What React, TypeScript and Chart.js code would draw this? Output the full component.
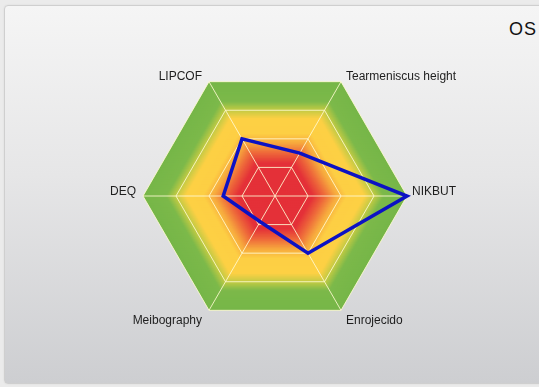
import React, { useEffect, useRef } from 'react';
import { Chart, registerables } from 'chart.js';

Chart.register(...registerables);

// ---- data ----
const categories = ['Tearmeniscus height', 'NIKBUT', 'Enrojecido', 'Meibography', 'DEQ', 'LIPCOF'];
const osValues = [1.5, 4, 2, 0.9, 1.57, 2];
const scaleMin = 0;
const scaleMax = 4;
const scaleStep = 1;
const titleText = 'OS';

// ---- styles ----
const gradientStops: [number, [number, number, number]][] = [
  [0.0, [228, 48, 56]],
  [0.29, [228, 48, 56]],
  [0.38, [238, 104, 58]],
  [0.47, [247, 170, 62]],
  [0.55, [253, 207, 68]],
  [0.68, [253, 208, 68]],
  [0.76, [190, 202, 68]],
  [0.83, [124, 185, 74]],
  [1.0, [118, 182, 72]],
];

function colorAt(f: number) {
  for (let i = 1; i < gradientStops.length; i++) {
    const [f1, c1] = gradientStops[i];
    const [f0, c0] = gradientStops[i - 1];
    if (f <= f1) {
      const t = f1 === f0 ? 0 : (f - f0) / (f1 - f0);
      const c = c0.map((v, k) => Math.round(v + (c1[k] - v) * t));
      return `rgb(${c[0]},${c[1]},${c[2]})`;
    }
  }
  const c = gradientStops[gradientStops.length - 1][1];
  return `rgb(${c[0]},${c[1]},${c[2]})`;
}

const hexGradientPlugin = {
  id: 'hexGradient',
  beforeDraw(chart: any) {
    const scale = chart.scales.r;
    if (!scale) return;
    const ctx = chart.ctx;
    const n = categories.length;
    const R = scale.drawingArea;
    const steps = Math.ceil(R);
    ctx.save();
    for (let s = steps; s >= 1; s--) {
      const f = s / steps;
      const d = R * f;
      ctx.beginPath();
      for (let i = 0; i < n; i++) {
        const p = scale.getPointPosition(i, d);
        if (i === 0) ctx.moveTo(p.x, p.y);
        else ctx.lineTo(p.x, p.y);
      }
      ctx.closePath();
      ctx.fillStyle = colorAt(f);
      ctx.fill();
    }
    ctx.restore();
  },
};

const labelPlugin = {
  id: 'axisLabels',
  afterDraw(chart: any) {
    const scale = chart.scales.r;
    if (!scale) return;
    const ctx = chart.ctx;
    ctx.save();
    ctx.font = '12px "Liberation Sans", Arial, sans-serif';
    ctx.fillStyle = '#1e1e1e';
    ctx.textBaseline = 'middle';
    categories.forEach((label, i) => {
      const p = scale.getPointPosition(i, scale.drawingArea);
      const dx = p.x - scale.xCenter;
      const dy = p.y - scale.yCenter;
      let x = p.x;
      let y = p.y;
      if (dx > 1) {
        ctx.textAlign = 'left';
        x = p.x + 5;
      } else if (dx < -1) {
        ctx.textAlign = 'right';
        x = p.x - 7;
      } else {
        ctx.textAlign = 'center';
      }
      if (dy < -1) y = p.y - 5;
      else if (dy > 1) y = p.y + 10;
      else y = p.y - 4;
      ctx.fillText(label, x, y);
    });
    ctx.restore();
  },
};

export default function App() {
  const canvasRef = useRef<HTMLCanvasElement | null>(null);

  useEffect(() => {
    if (!canvasRef.current) return;
    const chart = new Chart(canvasRef.current, {
      type: 'radar',
      data: {
        labels: categories,
        datasets: [
          {
            label: titleText,
            data: osValues,
            borderColor: '#0c12c4',
            borderWidth: 3.5,
            borderJoinStyle: 'miter',
            backgroundColor: 'rgba(0,0,0,0)',
            fill: false,
            pointRadius: 0,
            pointHoverRadius: 0,
            tension: 0,
          },
        ],
      },
      options: {
        responsive: false,
        animation: false,
        layout: { padding: { left: 143, right: 132, top: 64, bottom: 59 } },
        plugins: {
          legend: { display: false },
          tooltip: { enabled: false },
          title: { display: false },
        },
        scales: {
          r: {
            min: scaleMin,
            max: scaleMax,
            startAngle: 30,
            ticks: { display: false, stepSize: scaleStep },
            pointLabels: { display: false },
            grid: { color: 'rgba(255,250,210,0.85)', lineWidth: 1, circular: false },
            angleLines: { color: 'rgba(255,250,210,0.85)', lineWidth: 1 },
          },
        },
      },
      plugins: [hexGradientPlugin, labelPlugin],
    } as any);
    return () => chart.destroy();
  }, []);

  return (
    <div
      style={{
        position: 'fixed',
        left: 0,
        top: 0,
        width: 539,
        height: 387,
        overflow: 'hidden',
        background: '#ebebeb',
      }}
    >
      <div
        style={{
          position: 'absolute',
          left: 4,
          top: 5,
          width: 560,
          height: 377,
          border: '1px solid #cfcfcf',
          borderRadius: 4,
          background: 'linear-gradient(to bottom, #f5f5f5 0%, #e6e6e7 45%, #cdced1 100%)',
          boxShadow: '0 0 2px rgba(0,0,0,0.08)',
        }}
      />
      <div
        style={{
          position: 'absolute',
          left: 509,
          top: 19,
          font: '18px "Liberation Sans", Arial, sans-serif',
          letterSpacing: 1,
          color: '#111',
          whiteSpace: 'nowrap',
        }}
      >
        {titleText}
      </div>
      <canvas
        ref={canvasRef}
        width={539}
        height={387}
        style={{ position: 'absolute', left: 0, top: 0, width: 539, height: 387 }}
      />
    </div>
  );
}
